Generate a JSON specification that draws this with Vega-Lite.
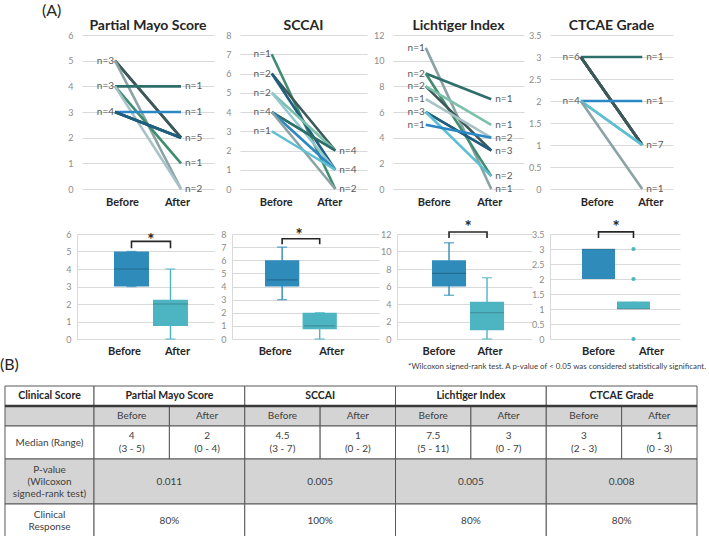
{
  "$schema": "https://vega.github.io/schema/vega-lite/v6.json",
  "background": "white",
  "padding": {"left": 0, "top": 3, "right": 2, "bottom": 0},
  "config": {
    "font": "Lato",
    "view": {"stroke": null},
    "axis": {"ticks": false, "labelFont": "Lato"},
    "axisX": {"domain": false, "grid": false, "labelFontWeight": "bold", "labelColor": "#262626", "labelFontSize": 11, "labelAngle": 0},
    "axisY": {"domain": false, "grid": true, "gridColor": "#d9d9d9", "gridWidth": 1, "labelColor": "#8c8c8c", "labelFontSize": 9},
    "title": {"fontSize": 14, "fontWeight": "bold", "color": "#262626", "frame": "group", "baseline": "middle", "offset": -2}
  },
  "spacing": 0,
  "resolve": {"scale": {"color": "independent"}},
  "vconcat": [
    {
      "spacing": 12,
      "resolve": {"scale": {"color": "independent"}},
      "vconcat": [
        {
          "bounds": "flush",
          "spacing": 26,
          "resolve": {"scale": {"color": "independent"}},
          "hconcat": [
            {
              "width": 56, "height": 154,
              "title": {"text": "(A)", "anchor": "start", "dx": 42, "offset": 16, "fontSize": 16, "fontWeight": "normal"},
              "data": {"values": []},
              "mark": "point"
            },
            {
              "width": 132, "height": 154,
              "title": "Partial Mayo Score",
              "data": {"values": [
                {"id": 1, "Before": 5, "After": 2}, {"id": 2, "Before": 5, "After": 2}, {"id": 3, "Before": 5, "After": 0},
                {"id": 4, "Before": 4, "After": 4}, {"id": 5, "Before": 4, "After": 1}, {"id": 6, "Before": 4, "After": 0},
                {"id": 7, "Before": 3, "After": 3}, {"id": 8, "Before": 3, "After": 2}, {"id": 9, "Before": 3, "After": 2},
                {"id": 10, "Before": 3, "After": 2}
              ]},
              "transform": [{"fold": ["Before", "After"], "as": ["time", "score"]}],
              "encoding": {
                "x": {"field": "time", "type": "nominal", "title": null, "sort": ["Before", "After"], "scale": {"type": "point", "padding": 0.5}, "axis": {"labelPadding": 7, "labelOffset": {"condition": {"test": "datum.value === 'Before'", "value": 7}, "value": -4}}},
                "y": {"field": "score", "type": "quantitative", "title": null, "scale": {"domain": [0, 6], "nice": false}, "axis": {"values": [0, 1, 2, 3, 4, 5, 6], "format": "~g", "labelPadding": 9}}
              },
              "layer": [
                {
                  "mark": {"type": "line", "strokeWidth": 2.6},
                  "encoding": {
                    "detail": {"field": "id"},
                    "color": {"field": "id", "type": "nominal", "legend": null, "scale": {"domain": [1, 2, 3, 4, 5, 6, 7, 8, 9, 10], "range": ["#3d5858", "#3d5858", "#8ba3a5", "#2f6f6b", "#3f8c6f", "#a8c2c8", "#2b88c4", "#1f5e7d", "#1f5e7d", "#1f5e7d"]}}
                  }
                },
                {
                  "transform": [{"filter": "datum.time === 'Before'"}, {"aggregate": [{"op": "count", "as": "n"}], "groupby": ["time", "score"]}, {"calculate": "'n=' + datum.n", "as": "lab"}],
                  "mark": {"type": "text", "align": "right", "dx": -1, "fontSize": 10, "color": "#595959"},
                  "encoding": {"text": {"field": "lab"}}
                },
                {
                  "transform": [{"filter": "datum.time === 'After'"}, {"aggregate": [{"op": "count", "as": "n"}], "groupby": ["time", "score"]}, {"calculate": "'n=' + datum.n", "as": "lab"}],
                  "mark": {"type": "text", "align": "left", "dx": 4, "fontSize": 10, "color": "#595959"},
                  "encoding": {"text": {"field": "lab"}}
                }
              ]
            },
            {
              "width": 127, "height": 154,
              "title": "SCCAI",
              "data": {"values": [
                {"id": 1, "Before": 7, "After": 0}, {"id": 2, "Before": 6, "After": 2}, {"id": 3, "Before": 6, "After": 1},
                {"id": 4, "Before": 5, "After": 2}, {"id": 5, "Before": 5, "After": 1}, {"id": 6, "Before": 4, "After": 2},
                {"id": 7, "Before": 4, "After": 2}, {"id": 8, "Before": 4, "After": 1}, {"id": 9, "Before": 4, "After": 0},
                {"id": 10, "Before": 3, "After": 1}
              ]},
              "transform": [{"fold": ["Before", "After"], "as": ["time", "score"]}],
              "encoding": {
                "x": {"field": "time", "type": "nominal", "title": null, "sort": ["Before", "After"], "scale": {"type": "point", "padding": 0.5}, "axis": {"labelPadding": 7, "labelOffset": {"condition": {"test": "datum.value === 'Before'", "value": 4}, "value": -6}}},
                "y": {"field": "score", "type": "quantitative", "title": null, "scale": {"domain": [0, 8], "nice": false}, "axis": {"values": [0, 1, 2, 3, 4, 5, 6, 7, 8], "format": "~g", "labelPadding": 9}}
              },
              "layer": [
                {
                  "mark": {"type": "line", "strokeWidth": 2.6},
                  "encoding": {
                    "detail": {"field": "id"},
                    "color": {"field": "id", "type": "nominal", "legend": null, "scale": {"domain": [1, 2, 3, 4, 5, 6, 7, 8, 9, 10], "range": ["#3f8c6f", "#3d5858", "#1f5e7d", "#7cc0ab", "#94c9d2", "#2f6f6b", "#2f6f6b", "#2b88c4", "#8ba3a5", "#5cc0d2"]}}
                  }
                },
                {
                  "transform": [{"filter": "datum.time === 'Before'"}, {"aggregate": [{"op": "count", "as": "n"}], "groupby": ["time", "score"]}, {"calculate": "'n=' + datum.n", "as": "lab"}],
                  "mark": {"type": "text", "align": "right", "dx": -1, "fontSize": 10, "color": "#595959"},
                  "encoding": {"text": {"field": "lab"}}
                },
                {
                  "transform": [{"filter": "datum.time === 'After'"}, {"aggregate": [{"op": "count", "as": "n"}], "groupby": ["time", "score"]}, {"calculate": "'n=' + datum.n", "as": "lab"}],
                  "mark": {"type": "text", "align": "left", "dx": 4, "fontSize": 10, "color": "#595959"},
                  "encoding": {"text": {"field": "lab"}}
                }
              ]
            },
            {
              "width": 131, "height": 154,
              "title": "Lichtiger Index",
              "data": {"values": [
                {"id": 1, "Before": 11, "After": 0}, {"id": 2, "Before": 9, "After": 7}, {"id": 3, "Before": 9, "After": 1},
                {"id": 4, "Before": 8, "After": 3}, {"id": 5, "Before": 8, "After": 5}, {"id": 6, "Before": 7, "After": 4},
                {"id": 7, "Before": 6, "After": 3}, {"id": 8, "Before": 6, "After": 3}, {"id": 9, "Before": 6, "After": 1},
                {"id": 10, "Before": 5, "After": 4}
              ]},
              "transform": [{"fold": ["Before", "After"], "as": ["time", "score"]}],
              "encoding": {
                "x": {"field": "time", "type": "nominal", "title": null, "sort": ["Before", "After"], "scale": {"type": "point", "padding": 0.5}, "axis": {"labelPadding": 7, "labelOffset": {"condition": {"test": "datum.value === 'Before'", "value": 8}, "value": -2}}},
                "y": {"field": "score", "type": "quantitative", "title": null, "scale": {"domain": [0, 12], "nice": false}, "axis": {"values": [0, 2, 4, 6, 8, 10, 12], "format": "~g", "labelPadding": 9}}
              },
              "layer": [
                {
                  "mark": {"type": "line", "strokeWidth": 2.6},
                  "encoding": {
                    "detail": {"field": "id"},
                    "color": {"field": "id", "type": "nominal", "legend": null, "scale": {"domain": [1, 2, 3, 4, 5, 6, 7, 8, 9, 10], "range": ["#8ba3a5", "#2f6f6b", "#3f8c6f", "#3d5858", "#7cc0ab", "#a8c2c8", "#1f5e7d", "#1f5e7d", "#5cc0d2", "#2b88c4"]}}
                  }
                },
                {
                  "transform": [{"filter": "datum.time === 'Before'"}, {"aggregate": [{"op": "count", "as": "n"}], "groupby": ["time", "score"]}, {"calculate": "'n=' + datum.n", "as": "lab"}],
                  "mark": {"type": "text", "align": "right", "dx": -1, "fontSize": 10, "color": "#595959"},
                  "encoding": {"text": {"field": "lab"}}
                },
                {
                  "transform": [{"filter": "datum.time === 'After'"}, {"aggregate": [{"op": "count", "as": "n"}], "groupby": ["time", "score"]}, {"calculate": "'n=' + datum.n", "as": "lab"}],
                  "mark": {"type": "text", "align": "left", "dx": 4, "fontSize": 10, "color": "#595959"},
                  "encoding": {"text": {"field": "lab"}}
                }
              ]
            },
            {
              "width": 123, "height": 154,
              "title": "CTCAE Grade",
              "data": {"values": [
                {"id": 1, "Before": 3, "After": 3}, {"id": 2, "Before": 3, "After": 1}, {"id": 3, "Before": 3, "After": 1},
                {"id": 4, "Before": 3, "After": 1}, {"id": 5, "Before": 3, "After": 1}, {"id": 6, "Before": 3, "After": 1},
                {"id": 7, "Before": 2, "After": 2}, {"id": 8, "Before": 2, "After": 1}, {"id": 9, "Before": 2, "After": 1},
                {"id": 10, "Before": 2, "After": 0}
              ]},
              "transform": [{"fold": ["Before", "After"], "as": ["time", "score"]}],
              "encoding": {
                "x": {"field": "time", "type": "nominal", "title": null, "sort": ["Before", "After"], "scale": {"type": "point", "padding": 0.5}, "axis": {"labelPadding": 7, "labelOffset": {"condition": {"test": "datum.value === 'Before'", "value": 16}, "value": 8}}},
                "y": {"field": "score", "type": "quantitative", "title": null, "scale": {"domain": [0, 3.5], "nice": false}, "axis": {"values": [0, 0.5, 1, 1.5, 2, 2.5, 3, 3.5], "format": "~g", "labelPadding": 9}}
              },
              "layer": [
                {
                  "mark": {"type": "line", "strokeWidth": 2.6},
                  "encoding": {
                    "detail": {"field": "id"},
                    "color": {"field": "id", "type": "nominal", "legend": null, "scale": {"domain": [1, 2, 3, 4, 5, 6, 7, 8, 9, 10], "range": ["#2f6f6b", "#3d5858", "#3d5858", "#3d5858", "#3d5858", "#3d5858", "#2b88c4", "#5cc0d2", "#5cc0d2", "#8ba3a5"]}}
                  }
                },
                {
                  "transform": [{"filter": "datum.time === 'Before'"}, {"aggregate": [{"op": "count", "as": "n"}], "groupby": ["time", "score"]}, {"calculate": "'n=' + datum.n", "as": "lab"}],
                  "mark": {"type": "text", "align": "right", "dx": -1, "fontSize": 10, "color": "#595959"},
                  "encoding": {"text": {"field": "lab"}}
                },
                {
                  "transform": [{"filter": "datum.time === 'After'"}, {"aggregate": [{"op": "count", "as": "n"}], "groupby": ["time", "score"]}, {"calculate": "'n=' + datum.n", "as": "lab"}],
                  "mark": {"type": "text", "align": "left", "dx": 4, "fontSize": 10, "color": "#595959"},
                  "encoding": {"text": {"field": "lab"}}
                }
              ]
            }
          ]
        },
        {
          "bounds": "flush",
          "spacing": 18,
          "resolve": {"scale": {"color": "independent"}},
          "hconcat": [
            {"width": 59, "height": 105, "data": {"values": []}, "mark": "point"},
            {
              "width": 137, "height": 105,
              "data": {"values": [
                {"time": "Before", "lower": 3, "q1": 3, "median": 4, "q3": 5, "upper": 5},
                {"time": "After", "lower": 0, "q1": 0.75, "median": 2, "q3": 2.25, "upper": 4}
              ]},
              "encoding": {"x": {"field": "time", "type": "nominal", "title": null, "sort": ["Before", "After"], "scale": {"type": "band", "paddingInner": 0.103, "paddingOuter": 0.808, "align": 0.587}, "axis": {"labelPadding": 6, "labelOffset": {"condition": {"test": "datum.value === 'Before'", "value": -7}, "value": 7}}}},
              "layer": [
                {"mark": {"type": "rule", "strokeWidth": 1.4}, "encoding": {"y": {"field": "lower", "type": "quantitative", "title": null, "scale": {"domain": [0, 6], "nice": false}, "axis": {"values": [0, 1, 2, 3, 4, 5, 6], "format": "~g", "domain": true, "domainColor": "#d9d9d9", "labelPadding": 6}}, "y2": {"field": "upper"}, "color": {"field": "time", "type": "nominal", "legend": null, "scale": {"domain": ["Before", "After"], "range": ["#2e8bba", "#4db5c2"]}}}},
                {"mark": {"type": "tick", "size": 10, "thickness": 1.4}, "encoding": {"y": {"field": "lower", "type": "quantitative", "title": null, "scale": {"domain": [0, 6], "nice": false}, "axis": {"values": [0, 1, 2, 3, 4, 5, 6], "format": "~g", "domain": true, "domainColor": "#d9d9d9", "labelPadding": 6}}, "color": {"field": "time", "type": "nominal", "legend": null}}},
                {"mark": {"type": "tick", "size": 10, "thickness": 1.4}, "encoding": {"y": {"field": "upper", "type": "quantitative", "title": null, "scale": {"domain": [0, 6], "nice": false}, "axis": {"values": [0, 1, 2, 3, 4, 5, 6], "format": "~g", "domain": true, "domainColor": "#d9d9d9", "labelPadding": 6}}, "color": {"field": "time", "type": "nominal", "legend": null}}},
                {"mark": {"type": "bar"}, "encoding": {"y": {"field": "q1", "type": "quantitative", "title": null, "scale": {"domain": [0, 6], "nice": false}, "axis": {"values": [0, 1, 2, 3, 4, 5, 6], "format": "~g", "domain": true, "domainColor": "#d9d9d9", "labelPadding": 6}}, "y2": {"field": "q3"}, "color": {"field": "time", "type": "nominal", "legend": null}}},
                {"mark": {"type": "tick", "size": 35, "thickness": 1.2, "color": "#000000", "opacity": 0.22}, "encoding": {"y": {"field": "median", "type": "quantitative", "title": null, "scale": {"domain": [0, 6], "nice": false}, "axis": {"values": [0, 1, 2, 3, 4, 5, 6], "format": "~g", "domain": true, "domainColor": "#d9d9d9", "labelPadding": 6}}}},
                {
                  "data": {"values": [{"time": "Before", "v": 5.19, "k": 1}, {"time": "Before", "v": 5.58, "k": 2}, {"time": "After", "v": 5.58, "k": 3}, {"time": "After", "v": 5.19, "k": 4}]},
                  "mark": {"type": "line", "strokeWidth": 1.6, "color": "#262626"},
                  "encoding": {"y": {"field": "v", "type": "quantitative", "title": null, "scale": {"domain": [0, 6], "nice": false}, "axis": {"values": [0, 1, 2, 3, 4, 5, 6], "format": "~g", "domain": true, "domainColor": "#d9d9d9", "labelPadding": 6}}, "order": {"field": "k"}}
                },
                {
                  "data": {"values": [{"time": "Before", "v": 5.85, "sig": "*"}]},
                  "mark": {"type": "text", "fontSize": 17, "fontWeight": "bold", "dx": 19.5, "dy": 4, "color": "#262626"},
                  "encoding": {"y": {"field": "v", "type": "quantitative", "title": null, "scale": {"domain": [0, 6], "nice": false}, "axis": {"values": [0, 1, 2, 3, 4, 5, 6], "format": "~g", "domain": true, "domainColor": "#d9d9d9", "labelPadding": 6}}, "text": {"field": "sig"}}
                }
              ]
            },
            {
              "width": 147, "height": 105,
              "data": {"values": [
                {"time": "Before", "lower": 3, "q1": 4, "median": 4.5, "q3": 6, "upper": 7},
                {"time": "After", "lower": 0, "q1": 0.75, "median": 1, "q3": 2, "upper": 2}
              ]},
              "encoding": {"x": {"field": "time", "type": "nominal", "title": null, "sort": ["Before", "After"], "scale": {"type": "band", "paddingInner": 0.088, "paddingOuter": 1.206, "align": 0.439}, "axis": {"labelPadding": 6, "labelOffset": {"condition": {"test": "datum.value === 'Before'", "value": -7}, "value": 12}}}},
              "layer": [
                {"mark": {"type": "rule", "strokeWidth": 1.4}, "encoding": {"y": {"field": "lower", "type": "quantitative", "title": null, "scale": {"domain": [0, 8], "nice": false}, "axis": {"values": [0, 1, 2, 3, 4, 5, 6, 7, 8], "format": "~g", "domain": true, "domainColor": "#d9d9d9", "labelPadding": 6}}, "y2": {"field": "upper"}, "color": {"field": "time", "type": "nominal", "legend": null, "scale": {"domain": ["Before", "After"], "range": ["#2e8bba", "#4db5c2"]}}}},
                {"mark": {"type": "tick", "size": 10, "thickness": 1.4}, "encoding": {"y": {"field": "lower", "type": "quantitative", "title": null, "scale": {"domain": [0, 8], "nice": false}, "axis": {"values": [0, 1, 2, 3, 4, 5, 6, 7, 8], "format": "~g", "domain": true, "domainColor": "#d9d9d9", "labelPadding": 6}}, "color": {"field": "time", "type": "nominal", "legend": null}}},
                {"mark": {"type": "tick", "size": 10, "thickness": 1.4}, "encoding": {"y": {"field": "upper", "type": "quantitative", "title": null, "scale": {"domain": [0, 8], "nice": false}, "axis": {"values": [0, 1, 2, 3, 4, 5, 6, 7, 8], "format": "~g", "domain": true, "domainColor": "#d9d9d9", "labelPadding": 6}}, "color": {"field": "time", "type": "nominal", "legend": null}}},
                {"mark": {"type": "bar"}, "encoding": {"y": {"field": "q1", "type": "quantitative", "title": null, "scale": {"domain": [0, 8], "nice": false}, "axis": {"values": [0, 1, 2, 3, 4, 5, 6, 7, 8], "format": "~g", "domain": true, "domainColor": "#d9d9d9", "labelPadding": 6}}, "y2": {"field": "q3"}, "color": {"field": "time", "type": "nominal", "legend": null}}},
                {"mark": {"type": "tick", "size": 31, "thickness": 1.2, "color": "#000000", "opacity": 0.22}, "encoding": {"y": {"field": "median", "type": "quantitative", "title": null, "scale": {"domain": [0, 8], "nice": false}, "axis": {"values": [0, 1, 2, 3, 4, 5, 6, 7, 8], "format": "~g", "domain": true, "domainColor": "#d9d9d9", "labelPadding": 6}}}},
                {
                  "data": {"values": [{"time": "Before", "v": 7.22, "k": 1}, {"time": "Before", "v": 7.64, "k": 2}, {"time": "After", "v": 7.64, "k": 3}, {"time": "After", "v": 7.22, "k": 4}]},
                  "mark": {"type": "line", "strokeWidth": 1.6, "color": "#262626"},
                  "encoding": {"y": {"field": "v", "type": "quantitative", "title": null, "scale": {"domain": [0, 8], "nice": false}, "axis": {"values": [0, 1, 2, 3, 4, 5, 6, 7, 8], "format": "~g", "domain": true, "domainColor": "#d9d9d9", "labelPadding": 6}}, "order": {"field": "k"}}
                },
                {
                  "data": {"values": [{"time": "Before", "v": 8.17, "sig": "*"}]},
                  "mark": {"type": "text", "fontSize": 17, "fontWeight": "bold", "dx": 17, "dy": 4, "color": "#262626"},
                  "encoding": {"y": {"field": "v", "type": "quantitative", "title": null, "scale": {"domain": [0, 8], "nice": false}, "axis": {"values": [0, 1, 2, 3, 4, 5, 6, 7, 8], "format": "~g", "domain": true, "domainColor": "#d9d9d9", "labelPadding": 6}}, "text": {"field": "sig"}}
                }
              ]
            },
            {
              "width": 135, "height": 105,
              "data": {"values": [
                {"time": "Before", "lower": 5, "q1": 6, "median": 7.5, "q3": 9, "upper": 11},
                {"time": "After", "lower": 0, "q1": 1, "median": 3, "q3": 4.25, "upper": 7}
              ]},
              "encoding": {"x": {"field": "time", "type": "nominal", "title": null, "sort": ["Before", "After"], "scale": {"type": "band", "paddingInner": 0.105, "paddingOuter": 0.829, "align": 0.556}, "axis": {"labelPadding": 6, "labelOffset": {"condition": {"test": "datum.value === 'Before'", "value": -10}, "value": 3}}}},
              "layer": [
                {"mark": {"type": "rule", "strokeWidth": 1.4}, "encoding": {"y": {"field": "lower", "type": "quantitative", "title": null, "scale": {"domain": [0, 12], "nice": false}, "axis": {"values": [0, 2, 4, 6, 8, 10, 12], "format": "~g", "domain": true, "domainColor": "#d9d9d9", "labelPadding": 6}}, "y2": {"field": "upper"}, "color": {"field": "time", "type": "nominal", "legend": null, "scale": {"domain": ["Before", "After"], "range": ["#2e8bba", "#4db5c2"]}}}},
                {"mark": {"type": "tick", "size": 10, "thickness": 1.4}, "encoding": {"y": {"field": "lower", "type": "quantitative", "title": null, "scale": {"domain": [0, 12], "nice": false}, "axis": {"values": [0, 2, 4, 6, 8, 10, 12], "format": "~g", "domain": true, "domainColor": "#d9d9d9", "labelPadding": 6}}, "color": {"field": "time", "type": "nominal", "legend": null}}},
                {"mark": {"type": "tick", "size": 10, "thickness": 1.4}, "encoding": {"y": {"field": "upper", "type": "quantitative", "title": null, "scale": {"domain": [0, 12], "nice": false}, "axis": {"values": [0, 2, 4, 6, 8, 10, 12], "format": "~g", "domain": true, "domainColor": "#d9d9d9", "labelPadding": 6}}, "color": {"field": "time", "type": "nominal", "legend": null}}},
                {"mark": {"type": "bar"}, "encoding": {"y": {"field": "q1", "type": "quantitative", "title": null, "scale": {"domain": [0, 12], "nice": false}, "axis": {"values": [0, 2, 4, 6, 8, 10, 12], "format": "~g", "domain": true, "domainColor": "#d9d9d9", "labelPadding": 6}}, "y2": {"field": "q3"}, "color": {"field": "time", "type": "nominal", "legend": null}}},
                {"mark": {"type": "tick", "size": 34, "thickness": 1.2, "color": "#000000", "opacity": 0.22}, "encoding": {"y": {"field": "median", "type": "quantitative", "title": null, "scale": {"domain": [0, 12], "nice": false}, "axis": {"values": [0, 2, 4, 6, 8, 10, 12], "format": "~g", "domain": true, "domainColor": "#d9d9d9", "labelPadding": 6}}}},
                {
                  "data": {"values": [{"time": "Before", "v": 11.54, "k": 1}, {"time": "Before", "v": 12.23, "k": 2}, {"time": "After", "v": 12.23, "k": 3}, {"time": "After", "v": 11.54, "k": 4}]},
                  "mark": {"type": "line", "strokeWidth": 1.6, "color": "#262626"},
                  "encoding": {"y": {"field": "v", "type": "quantitative", "title": null, "scale": {"domain": [0, 12], "nice": false}, "axis": {"values": [0, 2, 4, 6, 8, 10, 12], "format": "~g", "domain": true, "domainColor": "#d9d9d9", "labelPadding": 6}}, "order": {"field": "k"}}
                },
                {
                  "data": {"values": [{"time": "Before", "v": 13.1, "sig": "*"}]},
                  "mark": {"type": "text", "fontSize": 17, "fontWeight": "bold", "dx": 19, "dy": 4, "color": "#262626"},
                  "encoding": {"y": {"field": "v", "type": "quantitative", "title": null, "scale": {"domain": [0, 12], "nice": false}, "axis": {"values": [0, 2, 4, 6, 8, 10, 12], "format": "~g", "domain": true, "domainColor": "#d9d9d9", "labelPadding": 6}}, "text": {"field": "sig"}}
                }
              ]
            },
            {
              "width": 130, "height": 105,
              "data": {"values": [
                {"time": "Before", "lower": 2, "q1": 2, "median": 3, "q3": 3, "upper": 3},
                {"time": "After", "lower": 1, "q1": 1, "median": 1, "q3": 1.25, "upper": 1.25}
              ]},
              "encoding": {"x": {"field": "time", "type": "nominal", "title": null, "sort": ["Before", "After"], "scale": {"type": "band", "paddingInner": 0.057, "paddingOuter": 0.886, "align": 0.516}, "axis": {"labelPadding": 6, "labelOffset": {"condition": {"test": "datum.value === 'Before'", "value": 0}, "value": 18}}}},
              "layer": [
                {"mark": {"type": "rule", "strokeWidth": 1.4}, "encoding": {"y": {"field": "lower", "type": "quantitative", "title": null, "scale": {"domain": [0, 3.5], "nice": false}, "axis": {"values": [0, 0.5, 1, 1.5, 2, 2.5, 3, 3.5], "format": "~g", "domain": true, "domainColor": "#d9d9d9", "labelPadding": 6}}, "y2": {"field": "upper"}, "color": {"field": "time", "type": "nominal", "legend": null, "scale": {"domain": ["Before", "After"], "range": ["#2e8bba", "#4db5c2"]}}}},
                {"mark": {"type": "bar"}, "encoding": {"y": {"field": "q1", "type": "quantitative", "title": null, "scale": {"domain": [0, 3.5], "nice": false}, "axis": {"values": [0, 0.5, 1, 1.5, 2, 2.5, 3, 3.5], "format": "~g", "domain": true, "domainColor": "#d9d9d9", "labelPadding": 6}}, "y2": {"field": "q3"}, "color": {"field": "time", "type": "nominal", "legend": null}}},
                {"mark": {"type": "tick", "size": 33, "thickness": 1.2, "color": "#000000", "opacity": 0.22}, "encoding": {"y": {"field": "median", "type": "quantitative", "title": null, "scale": {"domain": [0, 3.5], "nice": false}, "axis": {"values": [0, 0.5, 1, 1.5, 2, 2.5, 3, 3.5], "format": "~g", "domain": true, "domainColor": "#d9d9d9", "labelPadding": 6}}}},
                {
                  "data": {"values": [{"time": "After", "v": 3}, {"time": "After", "v": 2}, {"time": "After", "v": 0}]},
                  "mark": {"type": "point", "filled": true, "size": 18, "opacity": 1, "color": "#4db5c2"},
                  "encoding": {"y": {"field": "v", "type": "quantitative", "title": null, "scale": {"domain": [0, 3.5], "nice": false}, "axis": {"values": [0, 0.5, 1, 1.5, 2, 2.5, 3, 3.5], "format": "~g", "domain": true, "domainColor": "#d9d9d9", "labelPadding": 6}}}
                },
                {
                  "data": {"values": [{"time": "Before", "v": 3.37, "k": 1}, {"time": "Before", "v": 3.57, "k": 2}, {"time": "After", "v": 3.57, "k": 3}, {"time": "After", "v": 3.37, "k": 4}]},
                  "mark": {"type": "line", "strokeWidth": 1.6, "color": "#262626"},
                  "encoding": {"y": {"field": "v", "type": "quantitative", "title": null, "scale": {"domain": [0, 3.5], "nice": false}, "axis": {"values": [0, 0.5, 1, 1.5, 2, 2.5, 3, 3.5], "format": "~g", "domain": true, "domainColor": "#d9d9d9", "labelPadding": 6}}, "order": {"field": "k"}}
                },
                {
                  "data": {"values": [{"time": "Before", "v": 3.82, "sig": "*"}]},
                  "mark": {"type": "text", "fontSize": 17, "fontWeight": "bold", "dx": 17.5, "dy": 4, "color": "#262626"},
                  "encoding": {"y": {"field": "v", "type": "quantitative", "title": null, "scale": {"domain": [0, 3.5], "nice": false}, "axis": {"values": [0, 0.5, 1, 1.5, 2, 2.5, 3, 3.5], "format": "~g", "domain": true, "domainColor": "#d9d9d9", "labelPadding": 6}}, "text": {"field": "sig"}}
                }
              ]
            }
          ]
        }
      ]
    },
    {
      "width": 706, "height": 177,
      "data": {"values": [
        {"row": "header", "x1": 0, "x2": 1.181, "y1": 0, "y2": 1, "text": "Clinical Score"},
        {"row": "header", "x1": 1.181, "x2": 3.181, "y1": 0, "y2": 1, "text": "Partial Mayo Score"},
        {"row": "header", "x1": 3.181, "x2": 5.181, "y1": 0, "y2": 1, "text": "SCCAI"},
        {"row": "header", "x1": 5.181, "x2": 7.181, "y1": 0, "y2": 1, "text": "Lichtiger Index"},
        {"row": "header", "x1": 7.181, "x2": 9.181, "y1": 0, "y2": 1, "text": "CTCAE Grade"},
        {"row": "phase", "x1": 0, "x2": 1.181, "y1": 1, "y2": 2, "text": ""},
        {"row": "phase", "x1": 1.181, "x2": 2.181, "y1": 1, "y2": 2, "text": "Before"},
        {"row": "phase", "x1": 2.181, "x2": 3.181, "y1": 1, "y2": 2, "text": "After"},
        {"row": "phase", "x1": 3.181, "x2": 4.181, "y1": 1, "y2": 2, "text": "Before"},
        {"row": "phase", "x1": 4.181, "x2": 5.181, "y1": 1, "y2": 2, "text": "After"},
        {"row": "phase", "x1": 5.181, "x2": 6.181, "y1": 1, "y2": 2, "text": "Before"},
        {"row": "phase", "x1": 6.181, "x2": 7.181, "y1": 1, "y2": 2, "text": "After"},
        {"row": "phase", "x1": 7.181, "x2": 8.181, "y1": 1, "y2": 2, "text": "Before"},
        {"row": "phase", "x1": 8.181, "x2": 9.181, "y1": 1, "y2": 2, "text": "After"},
        {"row": "median", "x1": 0, "x2": 1.181, "y1": 2, "y2": 3.65, "text": "Median (Range)"},
        {"row": "median", "x1": 1.181, "x2": 2.181, "y1": 2, "y2": 3.65, "text": "4\n(3 - 5)"},
        {"row": "median", "x1": 2.181, "x2": 3.181, "y1": 2, "y2": 3.65, "text": "2\n(0 - 4)"},
        {"row": "median", "x1": 3.181, "x2": 4.181, "y1": 2, "y2": 3.65, "text": "4.5\n(3 - 7)"},
        {"row": "median", "x1": 4.181, "x2": 5.181, "y1": 2, "y2": 3.65, "text": "1\n(0 - 2)"},
        {"row": "median", "x1": 5.181, "x2": 6.181, "y1": 2, "y2": 3.65, "text": "7.5\n(5 - 11)"},
        {"row": "median", "x1": 6.181, "x2": 7.181, "y1": 2, "y2": 3.65, "text": "3\n(0 - 7)"},
        {"row": "median", "x1": 7.181, "x2": 8.181, "y1": 2, "y2": 3.65, "text": "3\n(2 - 3)"},
        {"row": "median", "x1": 8.181, "x2": 9.181, "y1": 2, "y2": 3.65, "text": "1\n(0 - 3)"},
        {"row": "pvalue", "x1": 0, "x2": 1.181, "y1": 3.65, "y2": 5.9, "text": "P-value\n(Wilcoxon\nsigned-rank test)"},
        {"row": "pvalue", "x1": 1.181, "x2": 3.181, "y1": 3.65, "y2": 5.9, "text": "0.011"},
        {"row": "pvalue", "x1": 3.181, "x2": 5.181, "y1": 3.65, "y2": 5.9, "text": "0.005"},
        {"row": "pvalue", "x1": 5.181, "x2": 7.181, "y1": 3.65, "y2": 5.9, "text": "0.005"},
        {"row": "pvalue", "x1": 7.181, "x2": 9.181, "y1": 3.65, "y2": 5.9, "text": "0.008"},
        {"row": "response", "x1": 0, "x2": 1.181, "y1": 5.9, "y2": 7.6, "text": "Clinical\nResponse"},
        {"row": "response", "x1": 1.181, "x2": 3.181, "y1": 5.9, "y2": 7.6, "text": "80%"},
        {"row": "response", "x1": 3.181, "x2": 5.181, "y1": 5.9, "y2": 7.6, "text": "100%"},
        {"row": "response", "x1": 5.181, "x2": 7.181, "y1": 5.9, "y2": 7.6, "text": "80%"},
        {"row": "response", "x1": 7.181, "x2": 9.181, "y1": 5.9, "y2": 7.6, "text": "80%"}
      ]},
      "transform": [
        {"calculate": "(datum.x1 + datum.x2) / 2", "as": "xc"},
        {"calculate": "(datum.y1 + datum.y2) / 2", "as": "yc"}
      ],
      "layer": [
        {
          "mark": {"type": "rect", "stroke": "#595959", "strokeWidth": 1},
          "encoding": {
            "x": {"field": "x1", "type": "quantitative", "scale": {"domain": [-0.0663, 9.3], "nice": false, "zero": false}, "axis": null},
            "x2": {"field": "x2"},
            "y": {"field": "y1", "type": "quantitative", "scale": {"domain": [-1.25, 7.6], "reverse": true, "nice": false, "zero": false}, "axis": null},
            "y2": {"field": "y2"},
            "color": {"field": "row", "type": "nominal", "legend": null, "scale": {"domain": ["header", "phase", "median", "pvalue", "response"], "range": ["#ffffff", "#d4d4d4", "#ffffff", "#d4d4d4", "#ffffff"]}}
          }
        },
        {
          "data": {"values": [{"from": 0, "to": 9.181, "at": 1}]},
          "mark": {"type": "rule", "strokeWidth": 2.5, "color": "#3a3a3a"},
          "encoding": {"x": {"field": "from", "type": "quantitative"}, "x2": {"field": "to"}, "y": {"field": "at", "type": "quantitative"}}
        },
        {
          "transform": [{"filter": "datum.row === 'header'"}],
          "mark": {"type": "text", "fontWeight": "bold", "fontSize": 10.5, "color": "#262626"},
          "encoding": {"x": {"field": "xc", "type": "quantitative"}, "y": {"field": "yc", "type": "quantitative"}, "text": {"field": "text"}}
        },
        {
          "transform": [{"filter": "datum.row !== 'header' && length(split(datum.text, '\\n')) === 1"}],
          "mark": {"type": "text", "fontSize": 10, "color": "#404040"},
          "encoding": {"x": {"field": "xc", "type": "quantitative"}, "y": {"field": "yc", "type": "quantitative"}, "text": {"field": "text"}}
        },
        {
          "transform": [{"filter": "length(split(datum.text, '\\n')) === 2"}],
          "mark": {"type": "text", "fontSize": 10, "color": "#404040", "lineBreak": "\n", "lineHeight": 12.5, "dy": -6.25},
          "encoding": {"x": {"field": "xc", "type": "quantitative"}, "y": {"field": "yc", "type": "quantitative"}, "text": {"field": "text"}}
        },
        {
          "transform": [{"filter": "length(split(datum.text, '\\n')) === 3"}],
          "mark": {"type": "text", "fontSize": 10, "color": "#404040", "lineBreak": "\n", "lineHeight": 12, "dy": -12},
          "encoding": {"x": {"field": "xc", "type": "quantitative"}, "y": {"field": "yc", "type": "quantitative"}, "text": {"field": "text"}}
        },
        {
          "data": {"values": [{"t": "(B)"}]},
          "mark": {"type": "text", "align": "left", "fontSize": 16, "color": "#262626"},
          "encoding": {"x": {"datum": -0.0663}, "y": {"datum": -1.07}, "text": {"field": "t"}}
        },
        {
          "data": {"values": [{"t": "*Wilcoxon signed-rank test. A p-value of < 0.05 was considered statistically significant."}]},
          "mark": {"type": "text", "align": "right", "fontSize": 7.9, "color": "#404040"},
          "encoding": {"x": {"datum": 9.3}, "y": {"datum": -0.95}, "text": {"field": "t"}}
        }
      ]
    }
  ]
}
